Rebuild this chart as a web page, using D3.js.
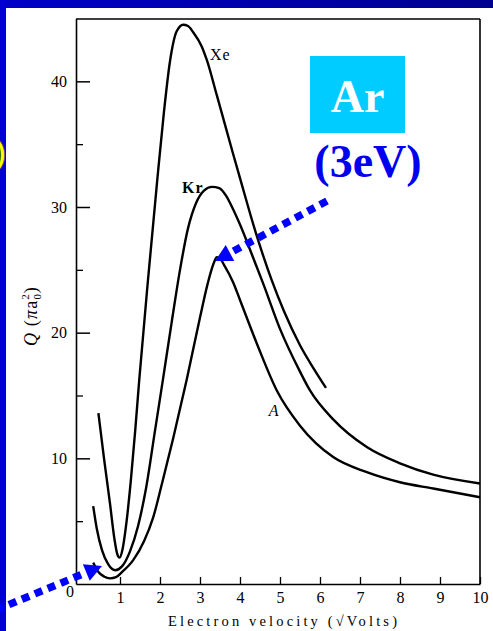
<!DOCTYPE html>
<html>
<head>
<meta charset="utf-8">
<script src="https://cdn.jsdelivr.net/npm/d3@7"></script>
<style>
  html, body { margin: 0; padding: 0; background: #ffffff; }
  svg { display: block; }
</style>
</head>
<body>
<svg id="chart" width="493" height="631"></svg>
<script>
// Total collision cross-section Q (in units of pi*a0^2) vs electron velocity (sqrt Volts)
const xenon = [
  [0.46, 13.6], [0.60, 10.0], [0.75, 6.4], [0.86, 3.6], [0.93, 2.4], [0.99, 2.1],
  [1.06, 2.7], [1.15, 4.6], [1.27, 8.2], [1.38, 12.2], [1.48, 16.2], [1.70, 24.2],
  [1.93, 32.1], [2.10, 37.6], [2.25, 41.6], [2.42, 44.0], [2.58, 44.5], [2.70, 44.4],
  [2.83, 43.9], [3.04, 42.8], [3.17, 41.7], [3.42, 38.9], [3.83, 34.2], [4.00, 32.3],
  [4.40, 27.9], [4.79, 24.2], [5.10, 21.7], [5.50, 19.0], [5.85, 17.1], [6.15, 15.6]
];
const krypton = [
  [0.33, 6.2], [0.42, 4.4], [0.55, 2.7], [0.70, 1.6], [0.88, 1.1], [1.05, 1.4],
  [1.25, 2.6], [1.45, 4.6], [1.65, 7.6], [1.875, 12.2], [2.08, 16.4], [2.30, 21.0],
  [2.50, 25.0], [2.70, 28.3], [2.90, 30.3], [3.10, 31.3], [3.30, 31.6], [3.48, 31.5],
  [3.65, 30.9], [3.80, 30.0], [4.00, 28.6], [4.30, 26.2], [4.58, 23.9], [5.00, 20.3],
  [5.50, 16.9], [5.75, 15.4], [6.33, 13.1], [7.17, 10.9], [8.00, 9.6], [8.83, 8.7],
  [10.0, 8.0]
];
const argon = [
  [0.33, 1.7], [0.45, 1.0], [0.60, 0.6], [0.75, 0.45], [0.90, 0.55], [1.05, 0.95],
  [1.33, 1.9], [1.60, 3.4], [1.83, 5.3], [2.05, 8.0], [2.33, 11.6], [2.67, 16.3],
  [3.00, 21.2], [3.20, 24.0], [3.34, 25.5], [3.42, 26.0], [3.50, 25.9], [3.60, 25.4],
  [3.83, 24.0], [4.00, 22.6], [4.45, 18.9], [4.92, 15.4], [5.50, 12.6], [6.33, 10.1],
  [7.17, 8.9], [8.00, 8.1], [8.83, 7.6], [10.0, 6.9]
];

const curveNames = ["Xe", "Kr", "A"];
const xTicks = [1, 2, 3, 4, 5, 6, 7, 8, 9, 10];
const yTicks = [10, 20, 30, 40];
const yMinorTicks = [5, 15, 25, 35];
const originLabel = "0";
const xTitle = "Electron velocity (\u221AVolts)";
const gasName = "Ar";
const energyNote = "(3eV)";

const svg = d3.select("#chart");
const W = 493, H = 631;

// page frame
const defs = svg.append("defs");
const grad = defs.append("linearGradient").attr("id", "topband")
  .attr("x1", "0").attr("x2", "1").attr("y1", "0").attr("y2", "0");
grad.append("stop").attr("offset", "0").attr("stop-color", "#0000c8");
grad.append("stop").attr("offset", "1").attr("stop-color", "#000090");

svg.append("rect").attr("x", 0).attr("y", 0).attr("width", W).attr("height", H).attr("fill", "#ffffff");
svg.append("rect").attr("x", 0).attr("y", 0).attr("width", W).attr("height", 8).attr("fill", "url(#topband)");
svg.append("rect").attr("x", 0).attr("y", 0).attr("width", 6).attr("height", H).attr("fill", "#0000d2");

// partial heading glyph at the left edge
svg.append("text").attr("x", 6).attr("y", 163)
  .attr("text-anchor", "end")
  .attr("font-family", "Liberation Sans, Arial, sans-serif")
  .attr("font-weight", "bold").attr("font-size", 30)
  .attr("fill", "#ffff00").attr("stroke", "#333300").attr("stroke-width", 0.6)
  .text(")");

// scales
const x = d3.scaleLinear().domain([-0.1, 10]).range([76, 480]);
const y = d3.scaleLinear().domain([0, 45]).range([584, 18.5]);

const serif = "Liberation Serif, Times New Roman, serif";

// plot frame
const frame = svg.append("g").attr("stroke", "#000").attr("fill", "none");
frame.append("line").attr("x1", x(-0.1)).attr("x2", x(10)).attr("y1", 19).attr("y2", 19).attr("stroke-width", 1.4);
frame.append("line").attr("x1", x(10)).attr("x2", x(10)).attr("y1", 19).attr("y2", y(0)).attr("stroke-width", 1.6);

// y axis
const yAxis = svg.append("g").attr("transform", `translate(${x(-0.1)},0)`)
  .call(d3.axisLeft(y).tickValues(yTicks).tickSize(-14).tickPadding(9).tickSizeOuter(0));
yAxis.select(".domain").attr("stroke-width", 1.6);
yAxis.selectAll(".tick line").attr("stroke-width", 1.5);
yAxis.selectAll(".tick text").attr("font-family", serif).attr("font-size", 16).attr("fill", "#000");

const yMinor = svg.append("g").attr("transform", `translate(${x(-0.1)},0)`)
  .call(d3.axisLeft(y).tickValues(yMinorTicks).tickSize(-7).tickFormat("").tickSizeOuter(0));
yMinor.select(".domain").remove();
yMinor.selectAll(".tick line").attr("stroke-width", 1.3);

// x axis
const xAxis = svg.append("g").attr("transform", `translate(0,${y(0)})`)
  .call(d3.axisBottom(x).tickValues(xTicks).tickSize(-7).tickPadding(8).tickSizeOuter(0));
xAxis.select(".domain").attr("stroke-width", 1.6);
xAxis.selectAll(".tick line").attr("stroke-width", 1.3);
xAxis.selectAll(".tick text").attr("font-family", serif).attr("font-size", 16).attr("fill", "#000");

svg.append("text").attr("x", 70).attr("y", 597).attr("text-anchor", "middle")
  .attr("font-family", serif).attr("font-size", 16).text(originLabel);

// axis titles
svg.append("text").attr("x", 168).attr("y", 626)
  .attr("font-family", serif).attr("font-size", 14.5)
  .attr("textLength", 229).attr("lengthAdjust", "spacing")
  .text(xTitle);

const yt = svg.append("text")
  .attr("transform", "translate(37,316) rotate(-90)")
  .attr("text-anchor", "middle")
  .attr("font-family", serif).attr("font-size", 18).attr("letter-spacing", 1.2);
yt.append("tspan").attr("font-style", "italic").text("Q");
yt.append("tspan").text(" (");
yt.append("tspan").attr("font-style", "italic").text("\u03C0");
yt.append("tspan").text("a");
yt.append("tspan").attr("font-size", 11).attr("dy", 4).text("0");
yt.append("tspan").attr("font-size", 11).attr("dx", -7).attr("dy", -12).text("2");
yt.append("tspan").attr("dy", 8).text(")");

// cross-section curves
const line = d3.line()
  .x(d => x(d[0])).y(d => y(d[1]))
  .curve(d3.curveMonotoneX);

const series = [xenon, krypton, argon];
svg.append("g").selectAll("path").data(series).join("path")
  .attr("d", line)
  .attr("fill", "none").attr("stroke", "#000")
  .attr("stroke-width", 2.4).attr("stroke-linejoin", "round");

// curve labels
const labelPos = [[3.25, 41.7], [2.55, 31.1], [4.72, 13.4]];
svg.append("g").selectAll("text").data(curveNames).join("text")
  .attr("x", (d, i) => x(labelPos[i][0]))
  .attr("y", (d, i) => y(labelPos[i][1]))
  .attr("font-family", serif).attr("font-size", 16)
  .attr("font-weight", (d, i) => i === 1 ? "bold" : "normal")
  .attr("font-style", (d, i) => i === 2 ? "italic" : "normal")
  .attr("letter-spacing", 1)
  .text(d => d);

// gas annotation box
svg.append("rect").attr("x", 310).attr("y", 56).attr("width", 95).attr("height", 77).attr("fill", "#00ccff");
svg.append("text").attr("x", 357.5).attr("y", 112).attr("text-anchor", "middle")
  .attr("font-family", serif).attr("font-weight", "bold").attr("font-size", 46)
  .attr("fill", "#ffffff").text(gasName);
svg.append("text").attr("x", 368).attr("y", 177).attr("text-anchor", "middle")
  .attr("font-family", serif).attr("font-weight", "bold").attr("font-size", 46)
  .attr("fill", "#0000ee").text(energyNote);

// dotted pointer arrows
function pointer(sx, sy, tx, ty) {
  const dx = tx - sx, dy = ty - sy, len = Math.hypot(dx, dy);
  const ux = dx / len, uy = dy / len;
  const L = 17, Wd = 9;
  const bx = tx - L * ux, by = ty - L * uy;
  const px = -uy, py = ux;
  svg.append("line").attr("x1", sx).attr("y1", sy).attr("x2", bx).attr("y2", by)
    .attr("stroke", "#0000ff").attr("stroke-width", 7.5)
    .attr("stroke-dasharray", "8,6");
  svg.append("path")
    .attr("d", `M${tx},${ty}L${bx + Wd * px},${by + Wd * py}L${bx - Wd * px},${by - Wd * py}Z`)
    .attr("fill", "#0000ff");
}
pointer(327, 201, 215, 261);
pointer(-4, 610, 102, 566);
</script>
</body>
</html>
